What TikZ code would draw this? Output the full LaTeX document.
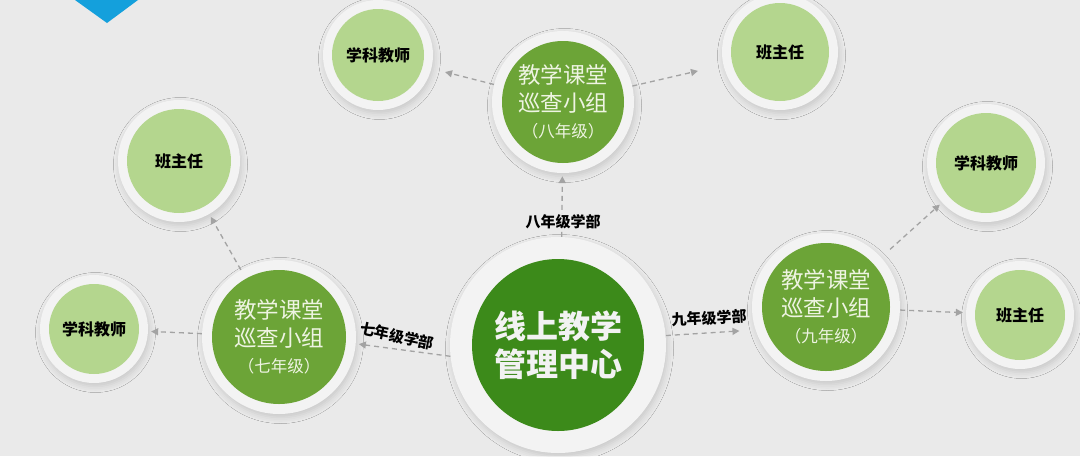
\documentclass[tikz,border=0pt]{standalone}
\usepackage{fontspec}
\setmainfont{Noto Sans CJK SC}
\usetikzlibrary{arrows.meta}
\usetikzlibrary{shadows.blur}
\definecolor{bggray}{HTML}{EAEAEA}
\definecolor{ringgray}{HTML}{F3F3F3}
\definecolor{linkgray}{HTML}{A3A3A3}
\definecolor{mblue}{HTML}{14A0DC}
\definecolor{mgreen}{HTML}{3C8A1A}
\definecolor{ggreen}{HTML}{6CA437}
\definecolor{lgreen}{HTML}{B4D68E}
\definecolor{gtext}{HTML}{EEF4E2}
\tikzset{ring/.style = {circle, fill=ringgray, inner sep = 0, blur shadow={shadow xshift=1.5pt, shadow yshift=-3.5pt, shadow blur radius=6pt, shadow opacity=14}}}
\tikzset{ball/.style = {circle, inner sep = 0, align=center}}
\tikzset{link/.style = {draw=linkgray, line width=1.3pt, dash pattern=on 5pt off 4pt, -{Triangle[length=7pt, width=7pt]}, shorten > = 3pt}}
\tikzset{dept/.style = {font=\fontsize{15}{18}\selectfont\bfseries, inner sep = 1pt}}

\begin{document}
\begin{tikzpicture}[x=1pt, y=-1pt]
      \fill [bggray] (0, 0) rectangle (1080, 456);
      \useasboundingbox (0, 0) rectangle (1080, 456);
      \fill [mblue] (75, 0) -- (138, 0) -- (107, 23) -- cycle;

      \node [ring, minimum size = 216pt] (mid) at (558, 345) {};
      \node [ball, fill=mgreen, minimum size = 172pt, text=white!95!black, font=\fontsize{32}{38}\selectfont\bfseries] (mid-c) at (mid) {线上教学\\管理中心};

      \foreach \n/\x/\y/\r/\g in {g8/563/102/71/八, g7/279/337/77/七, g9/826/307/74/九} {
        \pgfmathsetmacro{\d}{2 * \r};
        \pgfmathsetmacro{\e}{2 * \r - 20};
        \node [ring, minimum size = \d pt] (\n) at (\x, \y) {};
        \node [ball, fill=ggreen, minimum size = \e pt, text=gtext, font=\fontsize{22.5}{28}\selectfont] (\n-c) at (\n) {教学课堂\\巡查小组\\[-2pt]{\fontsize{16.5}{20}\selectfont （\g 年级）}};
      }

      \foreach \n/\x/\y/\r/\t in {t8a/378/55/55/学科教师, t8b/780/52/58/班主任, l7a/179/161/61/班主任, l7b/94/329/54/学科教师, r9a/986/163/59/学科教师, r9b/1020/315/54/班主任} {
        \pgfmathsetmacro{\d}{2 * \r};
        \pgfmathsetmacro{\e}{2 * \r - 18};
        \node [ring, minimum size = \d pt] (\n) at (\x, \y) {};
        \node [ball, fill=lgreen, minimum size = \e pt, font=\fontsize{16}{18}\selectfont\bfseries] (\n-c) at (\n) {\t};
      }

      \draw [link] (mid.88) -- (g8);
      \draw [link] (mid.186) -- (g7.-5);
      \draw [link, shorten > = 16pt] (mid.5) -- (g9.198);
      \draw [link, shorten > = 14pt] (g8) -- (t8a);
      \draw [link, shorten > = 26pt] (g8) -- (t8b);
      \draw [link] (g7) -- (l7a);
      \draw [link] (g7) -- (l7b);
      \draw [link, shorten < = 12pt] (g9) -- (r9a);
      \draw [link] (g9) -- (r9b);

      \node [dept, fill=bggray] (d8) at (563, 222) {八年级学部};
      \node [dept, rotate=-12] (d7) at (397, 336) {七年级学部};
      \node [dept, rotate=3] (d9) at (709, 318) {九年级学部};
    \end{tikzpicture}
\end{document}
